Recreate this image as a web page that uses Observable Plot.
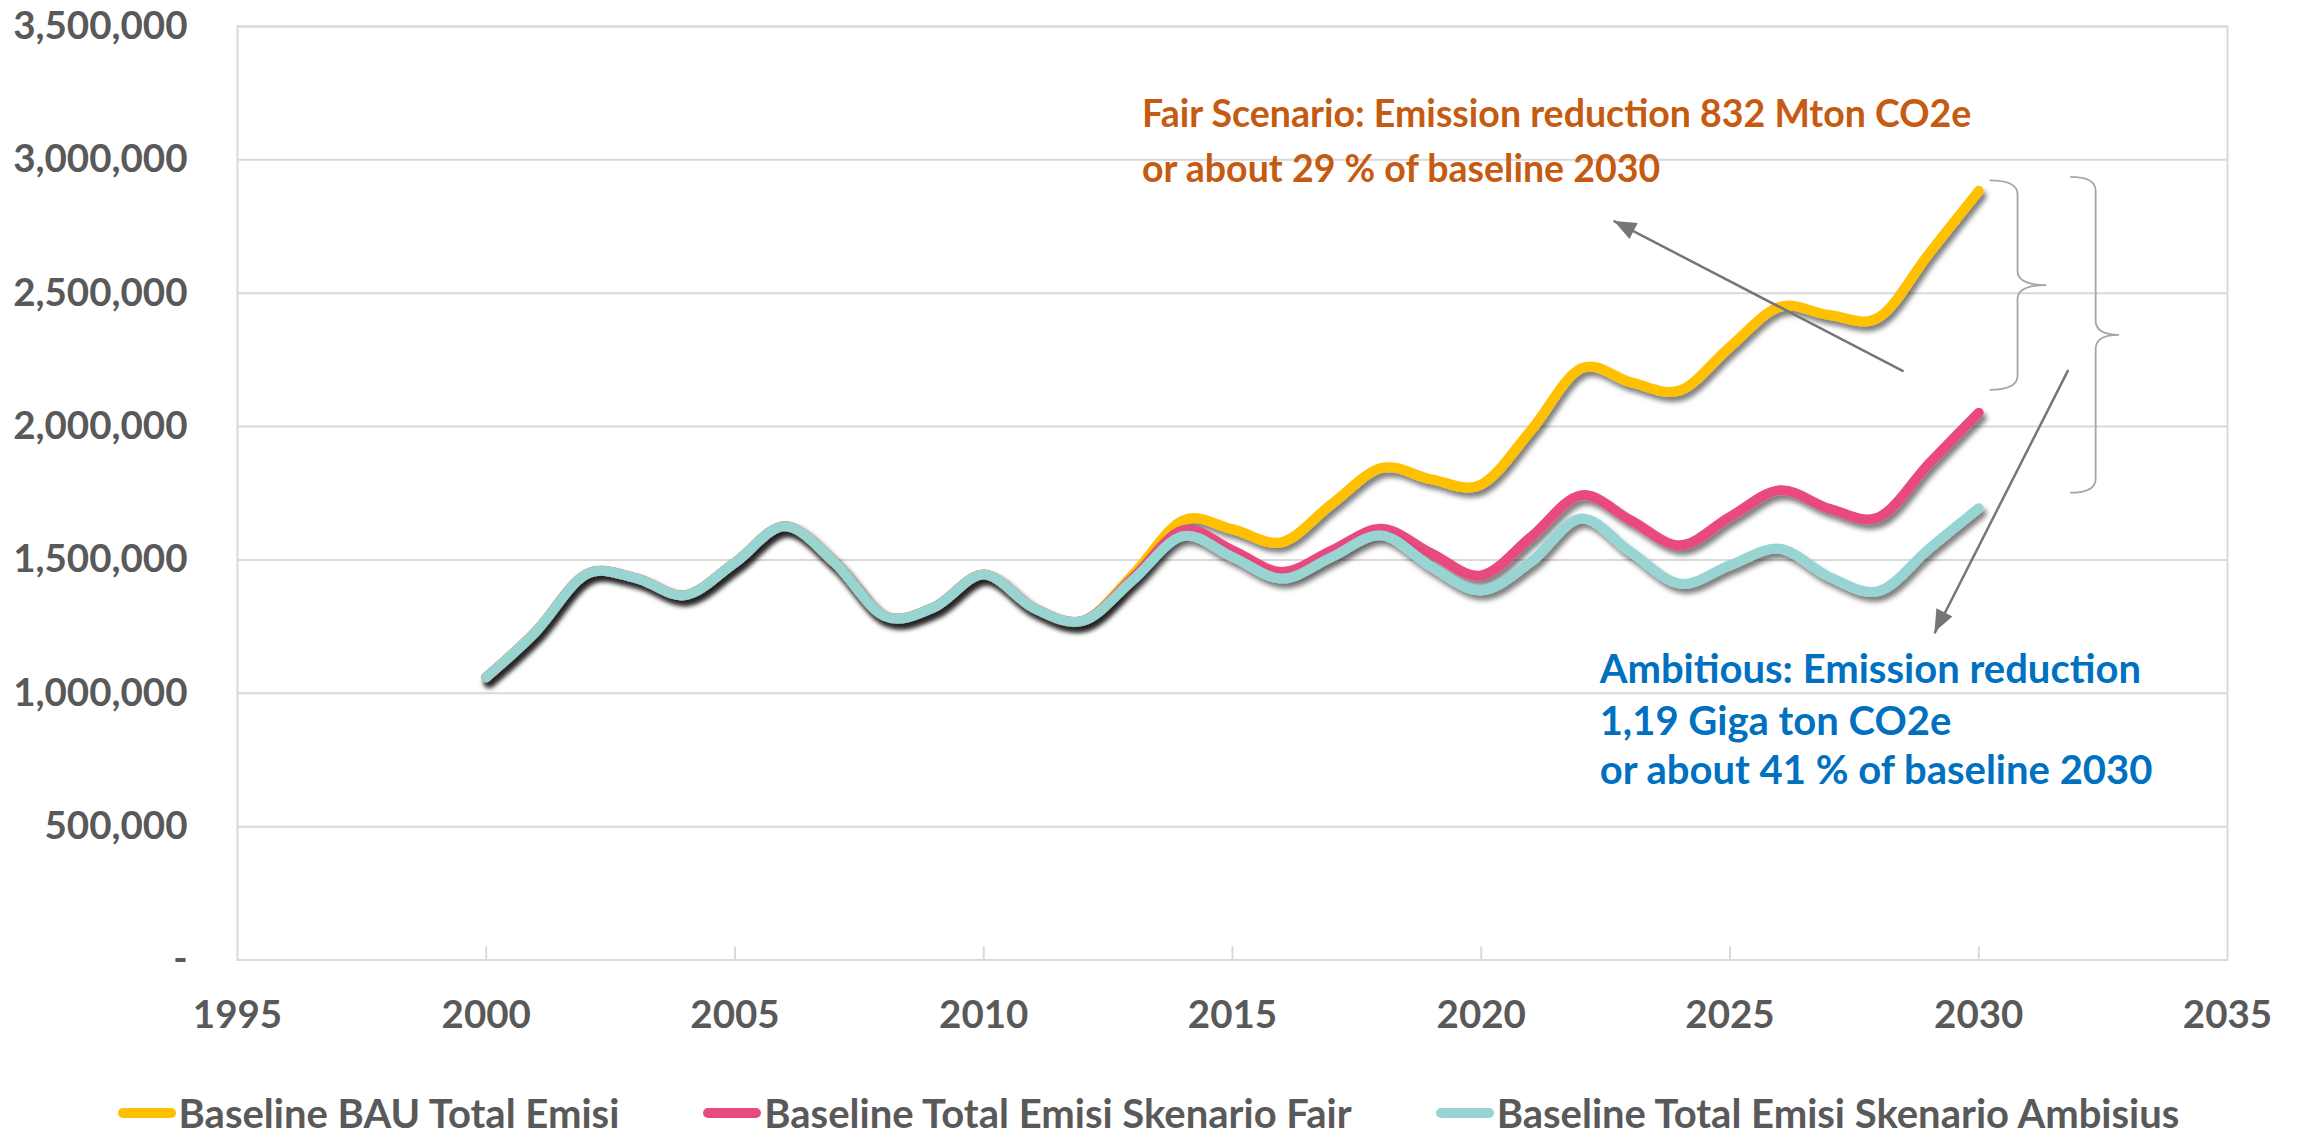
<!DOCTYPE html>
<html><head><meta charset="utf-8">
<script src="https://cdn.jsdelivr.net/npm/d3@7"></script>
<script src="https://cdn.jsdelivr.net/npm/@observablehq/plot@0.6"></script>
<style>
html,body{margin:0;padding:0;background:#fff;overflow:hidden}
body{width:2297px;height:1134px;font-family:Lato,"Open Sans",sans-serif;}
#chart{height:1094px}
#legend{display:flex;justify-content:center;align-items:center;gap:84px;height:38px;font-weight:700;font-size:40px;color:#595959;}
.item{display:flex;align-items:center;gap:3px;white-space:nowrap;line-height:38px}
.sw{width:58px;height:10px;border-radius:5px}
</style></head><body>
<div id="chart"></div>
<div id="legend"></div>
<script>
const years = [2000,2001,2002,2003,2004,2005,2006,2007,2008,2009,2010,2011,2012,2013,2014,2015,2016,2017,2018,2019,2020,2021,2022,2023,2024,2025,2026,2027,2028,2029,2030];
const bau = [1060000,1232000,1445000,1432000,1368000,1490000,1626000,1490000,1290000,1322000,1445000,1320000,1272000,
  1445000,1648000,1615000,1567000,1711000,1845000,1802000,1783000,1986000,2218000,2167000,2136000,2299000,2449000,2418000,2411000,2649000,2884000];
const fair = [1060000,1232000,1445000,1432000,1368000,1490000,1626000,1490000,1290000,1322000,1445000,1320000,1272000,
  1432000,1611000,1536000,1455000,1536000,1617000,1524000,1442000,1586000,1742000,1649000,1555000,1661000,1761000,1692000,1661000,1861000,2052000];
const ambitious = [1060000,1232000,1445000,1432000,1368000,1490000,1626000,1490000,1290000,1322000,1445000,1320000,1272000,
  1425000,1589000,1511000,1430000,1511000,1592000,1474000,1386000,1493000,1655000,1530000,1411000,1480000,1542000,1436000,1384000,1542000,1694000];
const seriesNames = ["Baseline BAU Total Emisi","Baseline Total Emisi Skenario Fair","Baseline Total Emisi Skenario Ambisius"];
const seriesColors = ["#FFC000","#E84A7F","#98D5D2"];
const yTicks = [0,500000,1000000,1500000,2000000,2500000,3000000,3500000];
const xTicks = [1995,2000,2005,2010,2015,2020,2025,2030,2035];
const xInnerTicks = [2000,2005,2010,2015,2020,2025,2030];

// annotation texts
const fairText = ["Fair Scenario: Emission reduction 832 Mton CO2e","or about 29 % of baseline 2030"];
const ambText = ["Ambitious: Emission reduction","1,19 Giga ton CO2e","or about 41 % of baseline 2030"];
// annotation anchors (data space)
const fairTextPos = {x: 2013.18, y: [3170000, 2961500]};
const ambTextPos = {x: 2022.38, y: [1088000, 890000, 708800]};
const arrows = [
  {x1: 2028.47, y1: 2208800, x2: 2022.68, y2: 2769200},
  {x1: 2031.79, y1: 2208800, x2: 2029.12, y2: 1228000}
];
const braces = [
  {x: 2030.23, spine: 2030.79, tip: 2031.37, top: 2921000, bottom: 2136000},
  {x: 2031.85, spine: 2032.36, tip: 2032.83, top: 2934000, bottom: 1750000}
];

const rows = [];
[bau, fair, ambitious].forEach((vals, i) => vals.forEach((v, j) => rows.push({series: seriesNames[i], year: years[j], value: v})));

const fairRows = fairText.map((t, i) => ({t, x: fairTextPos.x, y: fairTextPos.y[i]}));
const ambRows = ambText.map((t, i) => ({t, x: ambTextPos.x, y: ambTextPos.y[i]}));

const W = 2297, H = 1094;
const chart = Plot.plot({
  width: W, height: H,
  marginLeft: 237, marginRight: 70, marginTop: 26, marginBottom: 134.5,
  style: {fontFamily: "Lato, 'Open Sans', sans-serif", fontWeight: "bold", color: "#595959", background: "#fff"},
  x: {domain: [1995, 2035]},
  y: {domain: [0, 3500000]},
  color: {domain: seriesNames, range: seriesColors},
  marks: [
    Plot.gridY({ticks: yTicks, stroke: "#d9d9d9", strokeOpacity: 1, strokeWidth: 2}),
    Plot.frame({stroke: "#d9d9d9", strokeWidth: 2}),
    Plot.axisX({ticks: xInnerTicks, tickSize: 13, dy: -13, tickFormat: () => "", stroke: "#d9d9d9", strokeWidth: 2, strokeOpacity: 1}),
    Plot.axisX({ticks: xTicks, tickFormat: d => String(d), tickSize: 0, tickPadding: 41, fontSize: 38.5, fontWeight: "bold", fill: "#595959", label: null}),
    Plot.axisY({ticks: yTicks, tickFormat: d => d === 0 ? "-" : d3.format(",")(d), tickSize: 0, tickPadding: 50, fontSize: 38.5, fontWeight: "bold", fill: "#595959", label: null}),
    Plot.line(rows, {x: "year", y: "value", z: "series", stroke: "series", curve: "cardinal", strokeWidth: 10, strokeLinecap: "round", strokeLinejoin: "round"}),
    Plot.arrow(arrows, {x1: "x1", y1: "y1", x2: "x2", y2: "y2", stroke: "#767676", strokeWidth: 2.5, headLength: 0}),
    Plot.text(fairRows, {x: "x", y: "y", text: "t", textAnchor: "start", lineAnchor: "middle", fill: "#C55A11", fontSize: 37.5, fontWeight: "bold"}),
    Plot.text(ambRows, {x: "x", y: "y", text: "t", textAnchor: "start", lineAnchor: "middle", fill: "#0070C0", fontSize: 40, fontWeight: "bold"})
  ]
});

// drop shadow on lines
const ns = "http://www.w3.org/2000/svg";
const defs = document.createElementNS(ns, "defs");
defs.innerHTML = '<filter id="shadow" x="-5%" y="-20%" width="110%" height="140%"><feDropShadow dx="3" dy="5" stdDeviation="2.5" flood-color="#000" flood-opacity="0.5"/></filter>';
chart.insertBefore(defs, chart.firstChild);
chart.querySelectorAll('g[aria-label="line"] path').forEach(p => p.setAttribute("filter", "url(#shadow)"));

const sx = chart.scale("x"), sy = chart.scale("y");

// filled arrowheads
const ag = document.createElementNS(ns, "g");
ag.setAttribute("fill", "#767676");
arrows.forEach(a => {
  const x1 = sx.apply(a.x1), y1 = sy.apply(a.y1), x2 = sx.apply(a.x2), y2 = sy.apply(a.y2);
  const ang = Math.atan2(y2 - y1, x2 - x1);
  const L = 22, Wd = 9;
  const bx = x2 - L * Math.cos(ang), by = y2 - L * Math.sin(ang);
  const px = -Math.sin(ang) * Wd, py = Math.cos(ang) * Wd;
  const poly = document.createElementNS(ns, "polygon");
  poly.setAttribute("points", `${x2},${y2} ${bx + px},${by + py} ${bx - px},${by - py}`);
  ag.appendChild(poly);
});
chart.appendChild(ag);

// braces
const bg = document.createElementNS(ns, "g");
bg.setAttribute("fill", "none");
bg.setAttribute("stroke", "#a6a6a6");
bg.setAttribute("stroke-width", "1.8");
braces.forEach(b => {
  const x0 = sx.apply(b.x), xs = sx.apply(b.spine), xt = sx.apply(b.tip);
  const yt = sy.apply(b.top), yb = sy.apply(b.bottom), ym = (yt + yb) / 2;
  const r = 14;
  const d = `M${x0},${yt} Q${xs},${yt} ${xs},${yt + r} L${xs},${ym - r} Q${xs},${ym} ${xt},${ym} Q${xs},${ym} ${xs},${ym + r} L${xs},${yb - r} Q${xs},${yb} ${x0},${yb}`;
  const p = document.createElementNS(ns, "path");
  p.setAttribute("d", d);
  bg.appendChild(p);
});
chart.appendChild(bg);

document.getElementById("chart").appendChild(chart);

// legend
const lg = document.getElementById("legend");
seriesNames.forEach((n, i) => {
  const it = document.createElement("div"); it.className = "item";
  const sw = document.createElement("span"); sw.className = "sw"; sw.style.background = seriesColors[i];
  const tx = document.createElement("span"); tx.textContent = n;
  it.appendChild(sw); it.appendChild(tx); lg.appendChild(it);
});
</script>
</body></html>
